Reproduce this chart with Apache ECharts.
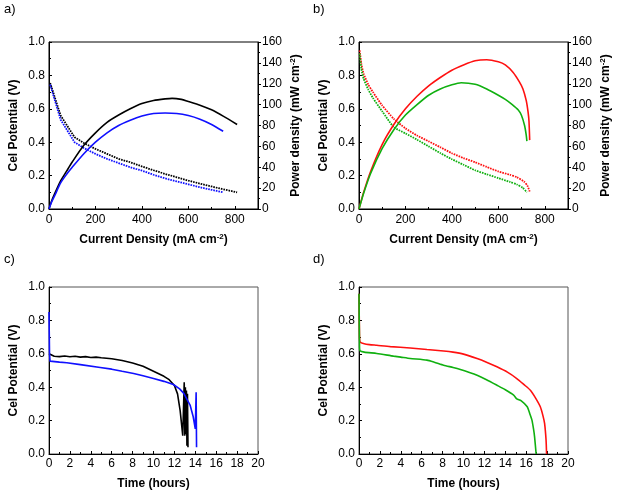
<!DOCTYPE html>
<html>
<head>
<meta charset="utf-8">
<script src="https://cdn.jsdelivr.net/npm/echarts@6/dist/echarts.min.js"></script>
<style>
  html, body { margin: 0; padding: 0; background: #fff; }
  #main { width: 620px; height: 493px; }
</style>
</head>
<body>
<div id="main"></div>
<script>
// panel a: polarization (I mA/cm2, V) and power (I, mW/cm2)
var aBlackPol = [[5,0.755],[50,0.56],[110,0.43],[150,0.395],[200,0.36],[250,0.33],[300,0.30],[350,0.28],[400,0.255],[450,0.232],[500,0.21],[550,0.19],[600,0.17],[650,0.152],[700,0.135],[750,0.118],[810,0.10]];
var aBluePol = [[5,0.745],[50,0.535],[110,0.40],[150,0.365],[200,0.33],[250,0.30],[300,0.275],[350,0.25],[400,0.23],[450,0.205],[500,0.183],[550,0.165],[600,0.148],[650,0.13],[700,0.115],[750,0.10]];
var aBlackPow = [[0,0],[10,7],[25,15],[50,27],[75,36],[100,45],[150,61],[200,73],[250,83],[300,90],[350,96],[400,101],[450,104],[500,105.5],[530,106],[570,105],[600,103],[650,99.5],[700,95],[750,89],[810,81]];
var aBluePow = [[0,0],[10,6],[25,13],[50,25],[75,33],[100,40],[150,53],[200,64],[250,73],[300,80],[350,85],[400,89],[450,91.5],[500,92],[550,91.5],[600,89.5],[650,86],[700,81],[750,74.5]];

// panel b
var bRedPol = [[3,0.95],[10,0.87],[20,0.81],[40,0.745],[60,0.70],[100,0.62],[150,0.54],[200,0.483],[250,0.44],[300,0.405],[350,0.37],[400,0.334],[450,0.305],[500,0.28],[550,0.252],[600,0.225],[650,0.205],[680,0.19],[710,0.165],[725,0.14],[735,0.105]];
var bGreenPol = [[3,0.93],[10,0.84],[20,0.78],[40,0.715],[60,0.665],[100,0.585],[150,0.49],[200,0.453],[250,0.415],[300,0.375],[350,0.335],[400,0.298],[450,0.265],[500,0.232],[550,0.208],[600,0.185],[650,0.162],[680,0.147],[705,0.127],[723,0.10]];
var bRedPow = [[0,0],[20,16],[50,36],[100,62],[150,81],[200,96],[250,108],[300,118],[350,126],[400,133],[450,138],[500,142],[550,143],[600,141],[630,138],[663,131],[690,122],[706,115],[720,104],[728,93],[732,84],[735,66]];
var bGreenPow = [[0,0],[20,15],[50,34],[100,58],[150,76],[200,90],[250,100],[300,109],[350,115],[400,119],[440,121],[500,119.5],[550,115],[600,109],[630,105],[660,100],[685,95],[699,90],[713,80],[720,71],[723,65]];

// panel c: time (h), V
var cBlack = [[0,0.60],[0.1,0.59],[0.5,0.585],[1,0.583],[1.5,0.587],[2,0.582],[2.5,0.585],[3,0.58],[3.5,0.583],[4,0.578],[4.5,0.58],[5,0.576],[6,0.57],[7,0.56],[8,0.545],[9,0.525],[10,0.495],[11,0.465],[11.5,0.445],[12,0.41],[12.3,0.36],[12.55,0.26],[12.8,0.11],[12.94,0.43],[13.0,0.11],[13.05,0.40],[13.1,0.12],[13.15,0.38],[13.2,0.05],[13.25,0.36],[13.3,0.04]];
var cBlue = [[0,0.85],[0.05,0.60],[0.1,0.556],[1,0.55],[1.7,0.546],[3,0.535],[4.9,0.518],[6,0.508],[7,0.495],[8.1,0.482],[9,0.468],[10,0.452],[11,0.435],[11.9,0.416],[12.5,0.39],[12.9,0.363],[13.5,0.293],[13.8,0.223],[14.0,0.15],[14.08,0.37],[14.12,0.04]];

// panel d
var dRed = [[0,0.96],[0.05,0.70],[0.1,0.671],[0.5,0.66],[1,0.655],[1.7,0.651],[3,0.643],[4.9,0.635],[6.5,0.626],[8.1,0.617],[9,0.61],[10,0.598],[11.3,0.572],[12.2,0.55],[13.2,0.522],[14.2,0.49],[15.1,0.452],[15.8,0.415],[16.4,0.382],[16.9,0.335],[17.35,0.283],[17.6,0.23],[17.76,0.183],[17.9,0.084],[17.95,0]];
var dGreen = [[0,0.96],[0.05,0.64],[0.1,0.618],[0.5,0.61],[1.7,0.602],[3.3,0.586],[4,0.58],[4.9,0.572],[6.5,0.562],[7.2,0.55],[8.1,0.532],[9,0.518],[9.7,0.506],[10.5,0.49],[11.3,0.472],[12.2,0.445],[13.2,0.412],[14,0.385],[14.8,0.353],[15.1,0.33],[15.5,0.32],[16.1,0.283],[16.35,0.24],[16.55,0.203],[16.7,0.15],[16.8,0.104],[16.95,0]];

var FONT = 'Arial, "Liberation Sans", sans-serif';
var supRich = { sup: { fontSize: 8, fontWeight: 'bold', verticalAlign: 'top', padding: [0, 0, 6, 0], fontFamily: FONT } };

function xCurrent(grid) {
    return {
        type: 'value', gridIndex: grid, min: 0, max: 900, interval: 200,
        name: 'Current Density (mA cm{sup|-2})', nameLocation: 'middle', nameGap: 24,
        nameTextStyle: { fontFamily: FONT, fontSize: 12, fontWeight: 'bold', color: '#000', rich: supRich },
        axisLine: { lineStyle: { color: '#000' } },
        axisTick: { inside: true, length: 3, lineStyle: { color: '#000' } },
        minorTick: { show: true, splitNumber: 2, length: 2, lineStyle: { color: '#000' } },
        axisLabel: { fontFamily: FONT, fontSize: 12, color: '#000', margin: 5, showMaxLabel: false },
        splitLine: { show: false }
    };
}
function xTime(grid) {
    return {
        type: 'value', gridIndex: grid, min: 0, max: 20, interval: 2,
        name: 'Time (hours)', nameLocation: 'middle', nameGap: 24,
        nameTextStyle: { fontFamily: FONT, fontSize: 12, fontWeight: 'bold', color: '#000' },
        axisLine: { lineStyle: { color: '#000' } },
        axisTick: { inside: true, length: 3, lineStyle: { color: '#000' } },
        minorTick: { show: true, splitNumber: 2, length: 2, lineStyle: { color: '#000' } },
        axisLabel: { fontFamily: FONT, fontSize: 12, color: '#000', margin: 4 },
        splitLine: { show: false }
    };
}
function yVolt(grid) {
    return {
        type: 'value', gridIndex: grid, min: 0, max: 1, interval: 0.2,
        name: 'Cel Potential (V)', nameLocation: 'middle', nameGap: 29, nameRotate: 90,
        nameTextStyle: { fontFamily: FONT, fontSize: 12, fontWeight: 'bold', color: '#000' },
        axisLine: { show: true, lineStyle: { color: '#000' } },
        axisTick: { inside: true, length: 3, lineStyle: { color: '#000' } },
        minorTick: { show: true, splitNumber: 2, length: 2, lineStyle: { color: '#000' } },
        axisLabel: { fontFamily: FONT, fontSize: 12, color: '#000', margin: 4,
            formatter: function (v) { return v.toFixed(1); } },
        splitLine: { show: false }
    };
}
function yPower(grid) {
    return {
        type: 'value', gridIndex: grid, position: 'right', min: 0, max: 160, interval: 20,
        name: 'Power density (mW cm{sup|-2})', nameLocation: 'middle', nameGap: 31, nameRotate: 90,
        nameTextStyle: { fontFamily: FONT, fontSize: 12, fontWeight: 'bold', color: '#000', rich: supRich },
        axisLine: { show: true, lineStyle: { color: '#000' } },
        axisTick: { inside: false, length: 3, lineStyle: { color: '#000' } },
        minorTick: { show: true, splitNumber: 2, length: 2, lineStyle: { color: '#000' } },
        axisLabel: { fontFamily: FONT, fontSize: 12, color: '#000', margin: 4 },
        splitLine: { show: false }
    };
}
function line(name, data, color, xi, yi, dotted, smooth) {
    return {
        name: name, type: 'line', data: data, xAxisIndex: xi, yAxisIndex: yi,
        showSymbol: false, symbol: 'none', smooth: smooth || false, silent: true,
        lineStyle: { color: color, width: dotted ? 1.8 : 1.6, type: dotted ? [1.6, 1] : 'solid' }
    };
}

var BLUE = '#1010ff', RED = '#ff1010', GREEN = '#10b010';

var myChart = echarts.init(document.getElementById('main'), null, { renderer: 'canvas' });
var option = {
    animation: false,
    backgroundColor: '#fff',
    graphic: [
        { type: 'text', left: 4, top: 3, style: { text: 'a)', fontFamily: FONT, fontSize: 13, fill: '#000' } },
        { type: 'text', left: 313, top: 3, style: { text: 'b)', fontFamily: FONT, fontSize: 13, fill: '#000' } },
        { type: 'text', left: 4, top: 253, style: { text: 'c)', fontFamily: FONT, fontSize: 13, fill: '#000' } },
        { type: 'text', left: 313, top: 253, style: { text: 'd)', fontFamily: FONT, fontSize: 13, fill: '#000' } }
    ],
    grid: [
        { left: 49, top: 42, width: 209, height: 167, show: true, borderColor: '#000', borderWidth: 1 },
        { left: 359, top: 42, width: 209, height: 167, show: true, borderColor: '#000', borderWidth: 1 },
        { left: 49, top: 287, width: 209, height: 167, show: true, borderColor: '#555', borderWidth: 1 },
        { left: 359, top: 287, width: 209, height: 167, show: true, borderColor: '#555', borderWidth: 1 }
    ],
    xAxis: [xCurrent(0), xCurrent(1), xTime(2), xTime(3)],
    yAxis: [yVolt(0), yPower(0), yVolt(1), yPower(1), yVolt(2), yVolt(3)],
    series: [
        line('a black V', aBlackPol, '#000', 0, 0, true, false),
        line('a blue V', aBluePol, BLUE, 0, 0, true, false),
        line('a black P', aBlackPow, '#000', 0, 1, false, 0.25),
        line('a blue P', aBluePow, BLUE, 0, 1, false, 0.25),
        line('b red V', bRedPol, RED, 1, 2, true, 0.2),
        line('b green V', bGreenPol, GREEN, 1, 2, true, 0.2),
        line('b red P', bRedPow, RED, 1, 3, false, 0.2),
        line('b green P', bGreenPow, GREEN, 1, 3, false, 0.2),
        line('c black', cBlack, '#000', 2, 4, false, false),
        line('c blue', cBlue, BLUE, 2, 4, false, false),
        line('d red', dRed, RED, 3, 5, false, 0.2),
        line('d green', dGreen, GREEN, 3, 5, false, 0.2)
    ]
};
myChart.setOption(option);
</script>
</body>
</html>
